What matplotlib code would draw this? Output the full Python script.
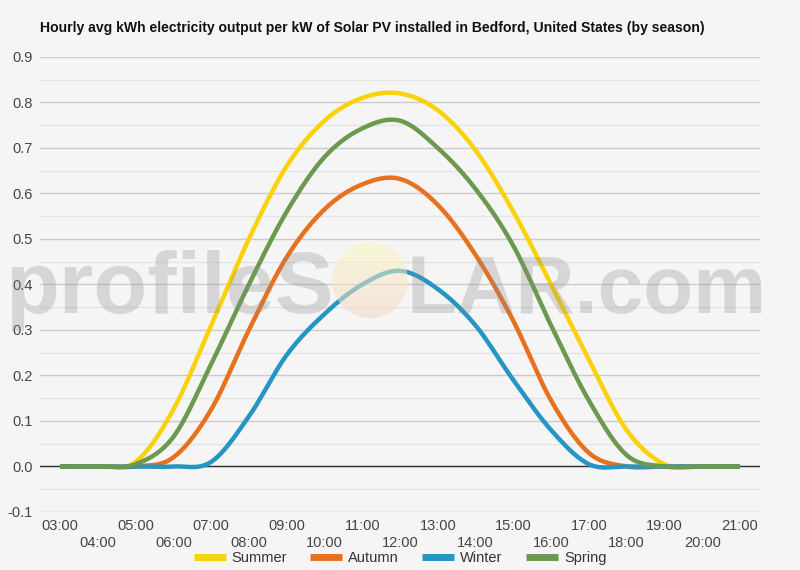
import numpy as np
import matplotlib
matplotlib.use('Agg')
import matplotlib.pyplot as plt
from matplotlib.patches import Circle

plt.rcParams['font.family'] = ['Liberation Sans', 'DejaVu Sans']

# hourly averages
hours = np.arange(3, 22)
hour_labels = ['%02d:00' % h for h in hours]
summer = [0.0, 0.0, 0.01, 0.125, 0.31, 0.50, 0.66, 0.76, 0.81, 0.82, 0.783, 0.695, 0.56, 0.40, 0.235, 0.08, 0.005, 0.0, 0.0]
autumn = [0.0, 0.0, 0.0, 0.02, 0.125, 0.30, 0.46, 0.565, 0.62, 0.632, 0.575, 0.465, 0.32, 0.145, 0.03, 0.0, 0.0, 0.0, 0.0]
winter = [0.0, 0.0, 0.0, 0.0, 0.01, 0.11, 0.245, 0.335, 0.40, 0.43, 0.39, 0.31, 0.19, 0.08, 0.005, 0.0, 0.0, 0.0, 0.0]
spring = [0.0, 0.0, 0.005, 0.065, 0.225, 0.40, 0.56, 0.68, 0.743, 0.76, 0.70, 0.61, 0.485, 0.31, 0.145, 0.025, 0.0, 0.0, 0.0]

series = [('Summer', summer, '#f9d20a'),
          ('Autumn', autumn, '#e8711f'),
          ('Winter', winter, '#2596c3'),
          ('Spring', spring, '#6b9a4f')]


def smooth(x, y, n=20):
    # cardinal spline through the points, like a "function" curve
    x = np.asarray(x, float)
    y = np.asarray(y, float)
    xs, ys = [], []
    for i in range(len(x) - 1):
        y0 = y[i - 1] if i > 0 else y[i]
        y3 = y[i + 2] if i + 2 < len(y) else y[i + 1]
        m1 = 0.5 * (y[i + 1] - y0)
        m2 = 0.5 * (y3 - y[i])
        t = np.linspace(0, 1, n, endpoint=False)
        h00 = 2 * t**3 - 3 * t**2 + 1
        h10 = t**3 - 2 * t**2 + t
        h01 = -2 * t**3 + 3 * t**2
        h11 = t**3 - t**2
        xs.append(x[i] + t * (x[i + 1] - x[i]))
        ys.append(h00 * y[i] + h10 * m1 + h01 * y[i + 1] + h11 * m2)
    xs.append([x[-1]])
    ys.append([y[-1]])
    return np.concatenate(xs), np.concatenate(ys)


bg = '#f5f5f5'
fig = plt.figure(figsize=(8, 5.7), dpi=100, facecolor=bg)
ax = fig.add_axes([0.05, 0.1018, 0.90, 0.7982])
ax.set_facecolor(bg)

for name, vals, col in series:
    sx, sy = smooth(hours, vals)
    ax.plot(sx, sy, color=col, lw=3.2, label=name, solid_capstyle='butt', zorder=3)

ax.axhline(0, color='#333333', lw=1, zorder=2)
ax.set_ylim(-0.1, 0.9)
ax.set_xlim(2.47, 21.53)
ax.set_yticks(np.arange(-0.1, 0.91, 0.1))
ax.set_yticklabels(['%.1f' % v for v in np.arange(-0.1, 0.91, 0.1)])
ax.set_yticks(np.arange(-0.05, 0.9, 0.1), minor=True)
ax.grid(True, which='major', axis='y', color='#cccccc', lw=1, zorder=0)
ax.grid(True, which='minor', axis='y', color='#e4e4e4', lw=1, zorder=0)
ax.grid(False, axis='x')

ax.set_xticks(hours[::2])
ax.set_xticklabels(hour_labels[::2])
ax.set_xticks(hours[1::2], minor=True)
ax.set_xticklabels(hour_labels[1::2], minor=True)
ax.tick_params(axis='x', which='major', length=0, pad=5, labelsize=10.5, labelcolor='#444444')
ax.tick_params(axis='x', which='minor', length=0, pad=17, labelsize=10.5, labelcolor='#444444')
ax.tick_params(axis='y', which='both', length=0, pad=5, labelsize=10.5, labelcolor='#444444')
for s in ax.spines.values():
    s.set_visible(False)

fig.text(40 / 800, 1 - 28 / 570, 'Hourly avg kWh electricity output per kW of Solar PV installed in Bedford, United States (by season)',
         fontsize=10.1, fontweight='bold', color='#111111', va='center', ha='left')

leg = fig.legend(loc='center', bbox_to_anchor=(0.5, 1 - 558 / 570), ncol=4, frameon=False,
                 fontsize=10.5, handlelength=2.2, handletextpad=0.4, columnspacing=1.6)
for line in leg.get_lines():
    line.set_linewidth(5)
for t in leg.get_texts():
    t.set_color('#333333')

# watermark
wm = fig.add_axes([0, 0, 1, 1], zorder=5)
wm.set_xlim(0, 800)
wm.set_ylim(570, 0)
wm.axis('off')
wm.patch.set_alpha(0)
grad = np.linspace(0, 1, 100)[:, None]
sun_cmap = matplotlib.colors.LinearSegmentedColormap.from_list('sun', ['#fbf7c0', '#f8e7c4', '#f2d7c2'])
img = wm.imshow(grad, extent=[332, 408, 318, 242], cmap=sun_cmap, alpha=0.55, aspect='auto')
circ = Circle((370, 280), 38, transform=wm.transData, facecolor='none', edgecolor='none')
wm.add_patch(circ)
img.set_clip_path(circ)
wm.text(334, 313, 'profileS', fontsize=63.5, fontweight='bold', color='#888888', alpha=0.28, ha='right', va='baseline')
wm.text(407, 313, 'LAR.com', fontsize=59, fontweight='bold', color='#888888', alpha=0.28, ha='left', va='baseline')

fig.savefig('out.png', dpi=100, facecolor=bg)
